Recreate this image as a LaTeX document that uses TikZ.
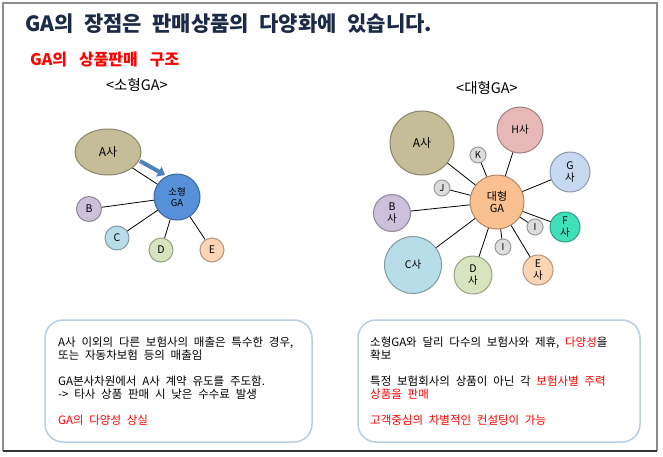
\documentclass[tikz,border=0pt]{standalone}
\usepackage{fontspec}
\setmainfont{Noto Sans CJK KR}
\usetikzlibrary{shapes.geometric,arrows.meta}
\newcommand\wspA{\spaceskip=0.5em plus 0pt minus 0pt\relax}
\newcommand\wspB{\spaceskip=0.75em plus 0pt minus 0pt\relax}
\definecolor{frame}{HTML}{8C8C8C}
\definecolor{titlec}{HTML}{1B2A47}
\definecolor{redc}{HTML}{FF0000}
\definecolor{boxc}{HTML}{B9CDE5}
\definecolor{tan}{HTML}{C4BD97}
\definecolor{sga}{HTML}{5590D9}
\definecolor{lav}{HTML}{CCC0DA}
\definecolor{cya}{HTML}{B7DEE8}
\definecolor{grn}{HTML}{D7E4BD}
\definecolor{pch}{HTML}{FCD5B5}
\definecolor{pnk}{HTML}{E6B9B8}
\definecolor{lbl}{HTML}{C6D9F1}
\definecolor{teal}{HTML}{40E0B8}
\definecolor{gry}{HTML}{DDDDDD}
\definecolor{lga}{HTML}{FAC090}
\definecolor{arr}{HTML}{4F81BD}
\tikzset{
  bub/.style={circle, fill=#1, draw=#1!70!black, line width=1pt, inner sep=0pt, align=center, font=\fontsize{10.5}{11.5}\selectfont, text=black},
  ell/.style={ellipse, fill=#1, draw=#1!70!black, line width=1pt, inner sep=0pt, align=center, font=\fontsize{12}{13}\selectfont},
  link/.style={draw=black, line width=0.8pt},
  txt/.style={anchor=base west, inner sep=0pt, font={\fontsize{11.5}{13}\selectfont\wspA}, text=black},
  panel/.style={draw=boxc, line width=1.5pt, rounded corners=18pt}
}
\begin{document}
\begin{tikzpicture}[x=1pt,y=-1pt]
\useasboundingbox (0,0) rectangle (663,456);
\fill[white] (0,0) rectangle (663,456);
% frame
\draw[frame, line width=1.5pt] (3,451) -- (3,3) -- (657,3) -- (657,451);
\draw[black!80, line width=1.5pt] (3,451) -- (657,451);
% titles
\node[anchor=base west, inner sep=0pt, font={\fontsize{21}{23}\selectfont\bfseries\wspA}, text=titlec] (title) at (25,31) {GA의 장점은 판매상품의 다양화에 있습니다.};
\node[anchor=base west, inner sep=0pt, font={\fontsize{16}{18}\selectfont\bfseries\wspB}, text=redc] (sub) at (30,65) {GA의 상품판매 구조};
\node[anchor=base west, inner sep=0pt, font=\fontsize{14.5}{16}\selectfont] (lsmall) at (106,90) {<소형GA>};
\node[anchor=base west, inner sep=0pt, font=\fontsize{14.5}{16}\selectfont] (llarge) at (456,93) {<대형GA>};
% small GA
\node[ell=tan, minimum width=66pt, minimum height=46pt] (sa) at (108,152) {A사};
\node[bub=sga, minimum size=46pt, font=\fontsize{9.5}{10.5}\selectfont] (sg) at (177,197) {소형\\GA};
\node[bub=lav, minimum width=25pt, minimum height=22pt] (sb) at (89,209) {B};
\node[bub=cya, minimum size=24pt] (sc) at (117,238) {C};
\node[bub=grn, minimum size=24pt] (sd) at (161,250) {D};
\node[bub=pch, minimum size=24pt] (se) at (212,250) {E};
\draw[link] (sa) -- (sg);
\draw[link] (sg) -- (sb);
\draw[link] (sg) -- (sc);
\draw[link] (sg) -- (sd);
\draw[link] (sg) -- (se);
\coordinate (as) at (140,161);
\coordinate (ae) at (165,175);
\draw[arr, line width=4pt, -{Triangle[length=7pt,width=11pt]}] (as) -- (ae);
% large GA
\node[bub=lga, minimum size=54pt, font=\fontsize{11}{12}\selectfont] (lg) at (497,202) {대형\\GA};
\node[bub=tan, minimum size=64pt, font=\fontsize{12}{13}\selectfont] (la) at (422,143) {A사};
\node[bub=pnk, minimum width=46pt, minimum height=43pt] (lh) at (520,130) {H사};
\node[bub=gry, minimum size=16pt, font=\fontsize{9.5}{10}\selectfont] (lk) at (478,155) {K};
\node[bub=lbl, minimum size=40pt] (lgg) at (570,172) {G\\사};
\node[bub=gry, minimum size=16pt, font=\fontsize{9.5}{10}\selectfont] (lj) at (442,188) {J};
\node[bub=lav, minimum size=37pt] (lb) at (392,213) {B\\사};
\node[bub=teal, minimum size=30pt] (lf) at (565,227) {F\\사};
\node[bub=gry, minimum size=16pt, font=\fontsize{9.5}{10}\selectfont] (li1) at (535,227) {I};
\node[bub=gry, minimum size=16pt, font=\fontsize{9.5}{10}\selectfont] (li2) at (503,247) {I};
\node[bub=cya, minimum size=57pt] (lc) at (413,265) {C사};
\node[bub=grn, minimum size=38pt] (ld) at (473,275) {D\\사};
\node[bub=pch, minimum size=30pt] (le) at (538,270) {E\\사};
\foreach \n in {la,lh,lk,lgg,lj,lb,lf,li1,li2,lc,ld,le} \draw[link] (lg) -- (\n);
% panels
\draw[panel] (45,320) rectangle (312,442);
\draw[panel] (358,320) rectangle (640,442);
\node[txt] (t1) at (58,346) {A사 이외의 다른 보험사의 매출은 특수한 경우,};
\node[txt] (t2) at (58,359) {또는 자동차보험 등의 매출임};
\node[txt] (t3) at (58,385) {GA본사차원에서 A사 계약 유도를 주도함.};
\node[txt] (t4) at (58,398) {-> 타사 상품 판매 시 낮은 수수료 발생};
\node[txt, text=redc] (t5) at (58,424) {GA의 다양성 상실};
\node[txt] (r1) at (370,346) {소형GA와 달리 다수의 보험사와 제휴, \textcolor{redc}{다양성}을};
\node[txt] (r2) at (370,359) {확보};
\node[txt] (r3) at (370,385) {특정 보험회사의 상품이 아닌 각 \textcolor{redc}{보험사별 주력}};
\node[txt, text=redc] (r4) at (370,398) {상품을 판매};
\node[txt, text=redc] (r5) at (370,424) {고객중심의 차별적인 컨설팅이 가능};
\end{tikzpicture}
\end{document}
